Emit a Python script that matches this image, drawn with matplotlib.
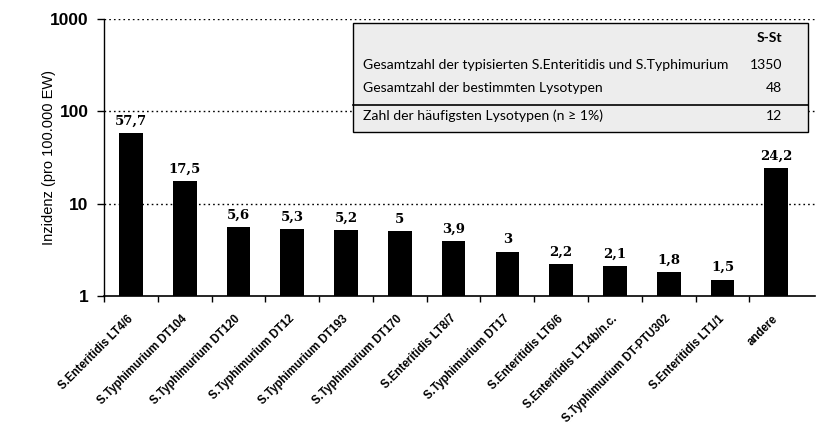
import matplotlib
matplotlib.use("Agg")
import matplotlib.pyplot as plt
from matplotlib.patches import Rectangle
from matplotlib.lines import Line2D
from matplotlib.transforms import ScaledTranslation
import numpy as np

categories = ["S.Enteritidis LT4/6", "S.Typhimurium DT104", "S.Typhimurium DT120",
              "S.Typhimurium DT12", "S.Typhimurium DT193", "S.Typhimurium DT170",
              "S.Enteritidis LT8/7", "S.Typhimurium DT17", "S.Enteritidis LT6/6",
              "S.Enteritidis LT14b/n.c.", "S.Typhimurium DT-PTU302", "S.Enteritidis LT1/1",
              "andere"]
values = [57.7, 17.5, 5.6, 5.3, 5.2, 5.0, 3.9, 3.0, 2.2, 2.1, 1.8, 1.5, 24.2]
value_labels = ["57,7", "17,5", "5,6", "5,3", "5,2", "5", "3,9", "3", "2,2", "2,1", "1,8", "1,5", "24,2"]
yticks = [1, 10, 100, 1000]
ytick_labels = ["1", "10", "100", "1000"]

table_header = "S-St"
table_rows = ["Gesamtzahl der typisierten S.Enteritidis und S.Typhimurium",
              "Gesamtzahl der bestimmten Lysotypen",
              "Zahl der häufigsten Lysotypen (n ≥ 1%)"]
table_values = ["1350", "48", "12"]

W, H = 821, 425
fig = plt.figure(figsize=(W / 100, H / 100), dpi=100)
ax = fig.add_axes([104 / W, 1 - 296 / H, (815 - 104) / W, (296 - 19) / H])

x = np.arange(len(categories))
ax.bar(x, values, width=0.44, color="black", zorder=3)
ax.set_yscale("log")
ax.set_ylim(1, 1000)
ax.set_xlim(-0.5, 12.72)

for yv in [10, 100, 1000]:
    ax.axhline(yv, color="black", linestyle=(0, (1.2, 2.2)), lw=1.0, zorder=1)

for xi, v, lab in zip(x, values, value_labels):
    ax.annotate(lab, (xi, v), xytext=(0, 4), textcoords="offset points",
                ha="center", va="bottom", fontsize=9.5, fontweight="bold",
                family="DejaVu Serif")

ax.set_yticks(yticks)
ax.set_yticklabels(ytick_labels, fontsize=12.5, fontweight="bold", family="Liberation Sans")
ax.yaxis.set_minor_locator(matplotlib.ticker.NullLocator())
ax.tick_params(axis="y", which="major", length=5, width=1, pad=6)

ax.set_xticks(x)
ax.set_xticklabels(categories, rotation=45, ha="right", rotation_mode="anchor",
                   fontsize=8.3, fontweight="bold", family="Liberation Sans")
ax.tick_params(axis="x", which="major", length=0, pad=12)
offset = ScaledTranslation(-4 / 100, 0, fig.dpi_scale_trans)
for lbl in ax.get_xticklabels():
    lbl.set_transform(lbl.get_transform() + offset)
ax.set_xticks(np.arange(len(categories)) - 0.5, minor=True)
ax.tick_params(axis="x", which="minor", length=4, width=1)

for s in ["top", "right"]:
    ax.spines[s].set_visible(False)
ax.spines["left"].set_linewidth(1)
ax.spines["bottom"].set_linewidth(1.2)

ax.set_ylabel("Inzidenz (pro 100.000 EW)", fontsize=10.5, family="Liberation Sans")
ax.yaxis.set_label_coords((56 - 104) / 711, 0.5)

# table box in figure pixel coords
def fx(px):
    return px / W

def fy(py):
    return 1 - py / H

bx0, bx1, by0, by1 = 353, 808, 23, 132
fig.add_artist(Rectangle((fx(bx0), fy(by1)), fx(bx1) - fx(bx0), fy(by0) - fy(by1),
                         facecolor="#ededed", edgecolor="black", lw=1.0,
                         transform=fig.transFigure, zorder=5))
fig.add_artist(Line2D([fx(bx0), fx(bx1)], [fy(105), fy(105)], color="black", lw=1.2,
                      transform=fig.transFigure, zorder=6))
tfont = dict(family="Lato", fontsize=10.1, zorder=7)
fig.text(fx(782), fy(38), table_header, ha="right", va="center", fontweight="bold", **tfont)
for row_y, txt, val in zip([65, 88, 116], table_rows, table_values):
    fig.text(fx(363), fy(row_y), txt, ha="left", va="center", **tfont)
    fig.text(fx(782), fy(row_y), val, ha="right", va="center", **tfont)

fig.savefig("out.png", dpi=100)
